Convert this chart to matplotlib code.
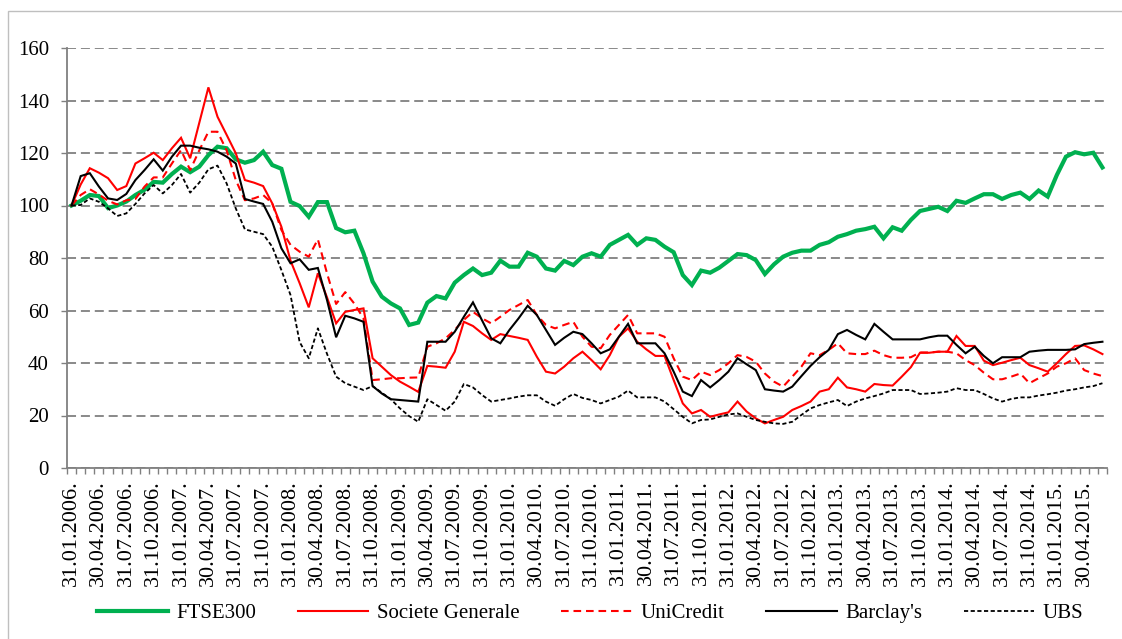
#!/usr/bin/env python3
"""Bank share prices vs FTSE300, rebased to 100 (Jan 2006 - Jun 2015)."""

import calendar

import matplotlib
matplotlib.use("Agg")
import matplotlib.pyplot as plt
import matplotlib.patches as mpatches
import numpy as np

# ── data (month-end, index 31.01.2006 = 100) ─────────────────────────
months = [(y, m) for y in range(2006, 2016) for m in range(1, 13)][:114]
dates = [f"{calendar.monthrange(y, m)[1]:02d}.{m:02d}.{y}." for y, m in months]

ftse300 = [100, 101.8, 104, 103.6, 99, 100, 101.5, 104, 106, 109,
           108.7, 112, 114.8, 112.7, 114.8, 119.2, 122.4, 121.8, 117.6, 116.3,
           117.3, 120.5, 115.4, 114, 101.4, 99.8, 95.7, 101.3, 101.3, 91.4,
           89.8, 90.4, 81.8, 71, 65.3, 62.7, 60.8, 54.5, 55.4, 63,
           65.5, 64.6, 70.6, 73.5, 76, 73.5, 74.4, 79, 76.7, 76.7,
           82, 80.5, 76, 75.2, 78.9, 77.3, 80.5, 81.8, 80.5, 85,
           86.9, 88.8, 85, 87.5, 86.9, 84.3, 82.2, 73.5, 69.7, 75.2,
           74.4, 76.3, 78.9, 81.5, 81.1, 79.2, 73.9, 77.6, 80.5, 82,
           82.8, 82.8, 85, 86, 88.1, 89.1, 90.4, 91, 91.9, 87.5,
           91.7, 90.4, 94.5, 97.9, 98.7, 99.5, 97.9, 101.8, 101, 102.7,
           104.3, 104.3, 102.5, 104, 104.9, 102.5, 105.7, 103.4, 111.6, 118.6,
           120.3, 119.5, 120.1, 114.5]

socgen = [100, 108, 114.2, 112.5, 110.4, 105.9, 107.4, 116, 118, 120.1,
          117.3, 121.8, 125.8, 118, 131.5, 145, 133.8, 126.9, 119.9, 109.7,
          108.7, 107.4, 100.8, 91.9, 79, 70.4, 61.2, 74.2, 65, 55.1,
          59.5, 60.2, 60.8, 41.8, 38.6, 35.4, 32.9, 31, 29, 38.9,
          38.6, 38.2, 44.3, 55.7, 54.1, 51.3, 48.8, 51, 50.3, 49.6,
          48.8, 42.4, 36.7, 36, 38.6, 41.8, 44.3, 41.1, 37.6, 43,
          50, 53.2, 48.1, 45.2, 42.7, 42.7, 33.5, 24.6, 20.8, 22.1,
          19.5, 20.4, 21.2, 25.3, 21.5, 18.9, 17, 18.3, 19.5, 22.1,
          23.6, 25.3, 29.1, 30, 34.4, 30.7, 30, 29.1, 32, 31.6,
          31.4, 34.8, 38.4, 43.9, 43.9, 44.3, 44.3, 50.3, 46.5, 46.5,
          40.9, 39.2, 40.1, 41.1, 42, 39.2, 38, 36.7, 39.9, 43.4,
          46.5, 46.7, 45.2, 43.4]

unicredit = [100, 104, 106.2, 104.2, 101.8, 100.4, 102, 102.5, 107.2, 110.7,
             110.7, 116, 121.1, 113.5, 121, 128.1, 128.1, 121, 109.7, 102,
             102.7, 104, 100.8, 90.7, 85, 82.4, 80.5, 87.1, 74.2, 62.5,
             67, 62.6, 57, 33.5, 33.8, 34.2, 34.2, 34.4, 34.5, 46.2,
             47.5, 49.4, 52.6, 56.4, 59.5, 57, 55.1, 57.6, 60.2, 62.1,
             64, 58.3, 54.5, 53.2, 54.5, 55.7, 50, 46.2, 45.6, 50.7,
             54.5, 58.3, 51.3, 51.3, 51.3, 50, 41.8, 34.8, 33.5, 36.7,
             35.4, 37.3, 39.9, 43, 42.3, 40.5, 36, 32.9, 31, 34.8,
             38.6, 43.7, 43, 45, 47.5, 43.7, 43.4, 43.4, 44.7, 43,
             42, 42, 42.2, 44, 44, 44.3, 44.3, 43.7, 41.1, 39.2,
             36.3, 33.8, 33.8, 34.8, 36, 32.3, 34.2, 36, 38.6, 39.9,
             41.8, 37.3, 36, 35]

barclays = [100, 111.2, 112.3, 107.2, 102.7, 102.1, 104.4, 109.7, 113.5, 117.6,
            113.3, 118.6, 122.8, 122.8, 122, 121.4, 120.5, 118.6, 116, 102.5,
            101.5, 100.6, 93.8, 83.7, 78, 79.5, 75.5, 76.2, 64, 49.8,
            58, 57, 55.7, 31.2, 28.4, 26.2, 25.9, 25.6, 25.3, 48.1,
            48.1, 48.1, 51.9, 57.6, 63.1, 56.2, 49.4, 47.5, 52.6, 57,
            61.8, 58.3, 52.6, 46.9, 49.6, 51.9, 51, 47.5, 43.7, 45.2,
            50, 54.9, 47.5, 47.5, 47.5, 43.7, 36.7, 29.1, 27.4, 33.5,
            30.7, 33.5, 36.7, 41.8, 39.5, 37.3, 30, 29.5, 29.1, 31,
            35, 38.9, 42.2, 45, 51, 52.6, 50.7, 49, 54.9, 51.9,
            49, 49, 49, 49, 49.8, 50.4, 50.4, 46.9, 43.7, 46.2,
            42.7, 39.9, 42.2, 42.2, 42.2, 44.3, 44.7, 45, 45, 45,
            45.2, 47.2, 47.7, 48.1]

ubs = [100, 100.2, 102.7, 101.4, 98.9, 96, 97, 100.6, 104.6, 107.8,
       104.6, 107.8, 112, 104.9, 108.7, 113.8, 115.2, 108.4, 98.9, 90.9,
       90, 89.1, 84.3, 75.4, 65.9, 48, 41.8, 53.2, 43.5, 34.8,
       32.3, 31, 29.7, 31.2, 28.7, 26.2, 22.7, 19.8, 17.6, 26.2,
       24, 21.8, 25.3, 32, 30.7, 27.8, 25.3, 25.9, 26.5, 27.2,
       27.7, 27.7, 25.3, 23.7, 26.2, 28.2, 26.7, 25.9, 24.6, 25.9,
       27.2, 29.5, 26.9, 26.9, 26.9, 25.3, 22.4, 19.5, 17, 18.3,
       18.5, 19.5, 20.4, 20.8, 19.5, 18.3, 17.6, 17, 16.8, 17.6,
       20.2, 22.7, 24, 25, 25.9, 23.6, 25.3, 26.5, 27.4, 28.4,
       29.7, 29.7, 29.7, 28.2, 28.4, 28.7, 29.1, 30.4, 29.7, 29.7,
       28.2, 26.5, 25.3, 26.3, 26.9, 26.9, 27.6, 28.1, 28.7, 29.5,
       30, 30.7, 31.2, 32.3]

series = [
    ("FTSE300", ftse300, dict(color="#00B050", lw=3.0)),
    ("Societe Generale", socgen, dict(color="#FF0000", lw=1.5)),
    ("UniCredit", unicredit, dict(color="#FF0000", lw=1.5, dashes=(5.5, 3.5))),
    ("Barclay's", barclays, dict(color="black", lw=1.5)),
    ("UBS", ubs, dict(color="black", lw=1.3, dashes=(3.0, 1.8))),
]

# ── plot ─────────────────────────────────────────────────────────────
plt.rcParams["font.family"] = ["Liberation Serif", "DejaVu Serif"]
plt.rcParams["lines.scale_dashes"] = False

W, H = 1122, 639
fig = plt.figure(figsize=(W / 100, H / 100), dpi=100)
fig.patch.set_facecolor("white")

# outer chart border
fig.patches.append(mpatches.Rectangle(
    (8 / W, -0.1), 1.2, 1 - 11 / H + 0.1, transform=fig.transFigure,
    fill=False, edgecolor="#BFBFBF", lw=1.0))

ax = fig.add_axes([67 / W, 1 - 468 / H, (1107 - 67) / W, 420 / H])
x = np.arange(len(dates))

for name, vals, style in series:
    ax.plot(x, vals, label=name, solid_joinstyle="miter", **style, zorder=3)

ax.set_xlim(-0.5, len(dates) - 0.5)
ax.set_ylim(0, 160)
ax.set_yticks(np.arange(0, 161, 20))
ax.yaxis.grid(True, color="#808080", lw=1.3, dashes=(6.5, 3.5))
ax.set_axisbelow(True)

ax.set_xticks(x[::3])
ax.set_xticklabels(dates[::3], rotation=90, fontsize=16)
ax.set_xticks(np.arange(-0.5, len(dates), 1), minor=True)
ax.tick_params(axis="x", which="major", length=0, pad=9)
ax.tick_params(axis="x", which="minor", length=4, width=1.0, color="#808080")
ax.tick_params(axis="y", labelsize=15, length=4, width=1.0, color="#808080", pad=9)

for s in ("top", "right"):
    ax.spines[s].set_visible(False)
for s in ("left", "bottom"):
    ax.spines[s].set_color("#808080")
    ax.spines[s].set_linewidth(1.3)

handles, labels = ax.get_legend_handles_labels()
fig.legend(handles, labels, loc="center", ncol=5, frameon=False,
           bbox_to_anchor=(0.526, 1 - 613 / H), fontsize=15,
           handlelength=3.4, handletextpad=0.4, columnspacing=2.0)

fig.savefig("out.png", dpi=100, facecolor="white")
plt.close(fig)
